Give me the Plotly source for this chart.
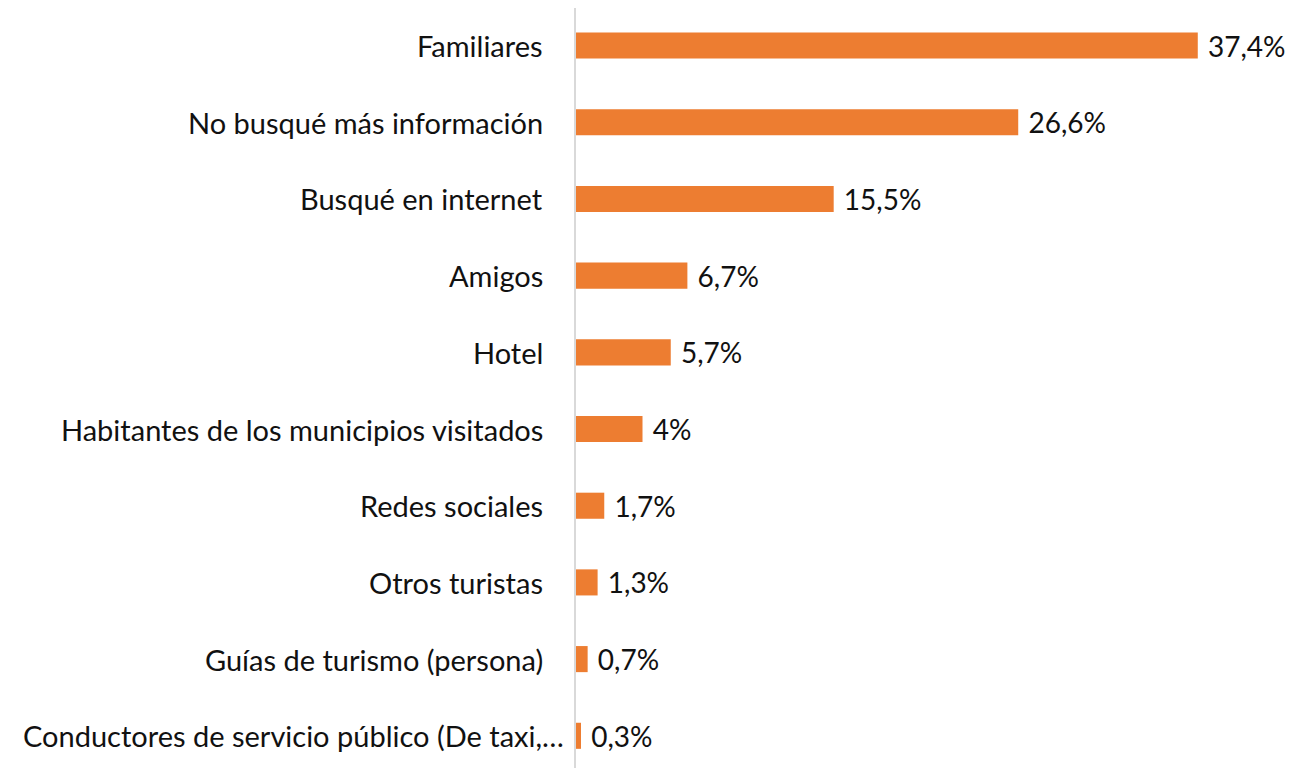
import plotly.graph_objects as go

categories = [
    "Familiares",
    "No busqué más información",
    "Busqué en internet",
    "Amigos",
    "Hotel",
    "Habitantes de los municipios visitados",
    "Redes sociales",
    "Otros turistas",
    "Guías de turismo (persona)",
    "Conductores de servicio público (De taxi,…",
]
values = [37.4, 26.6, 15.5, 6.7, 5.7, 4.0, 1.7, 1.3, 0.7, 0.3]

labels = ["\u00a0" + f"{v:g}".replace(".", ",") + "%" for v in values]

FONT = "Lato"
SIZE = 29
LABEL_SIZE = 28
TEXT_COLOR = "#111111"

fig = go.Figure(
    go.Bar(
        x=values,
        y=categories,
        orientation="h",
        marker=dict(color="#ED7D31", line=dict(width=0)),
        text=labels,
        textposition="outside",
        constraintext="none",
        cliponaxis=False,
        textfont=dict(family=FONT, size=LABEL_SIZE, color=TEXT_COLOR),
        outsidetextfont=dict(family=FONT, size=LABEL_SIZE, color=TEXT_COLOR),
    )
)

# category labels as annotations (the last, truncated one sits closer to the axis)
for i, cat in enumerate(categories):
    shift = -10 if cat.endswith("…") else -31
    fig.add_annotation(
        x=0, xref="paper", y=cat, yref="y",
        text=cat, showarrow=False,
        xanchor="right", yanchor="middle", xshift=shift,
        font=dict(family=FONT, size=SIZE, color=TEXT_COLOR),
    )

fig.update_layout(
    width=1288,
    height=760,
    margin=dict(l=568, r=55, t=0, b=0),
    paper_bgcolor="white",
    plot_bgcolor="white",
    bargap=0.66,
    showlegend=False,
    font=dict(family=FONT, size=SIZE, color=TEXT_COLOR),
)
fig.update_xaxes(
    range=[0, 40],
    showgrid=False,
    zeroline=False,
    showticklabels=False,
    showline=False,
)
fig.update_yaxes(
    categoryorder="array",
    categoryarray=categories,
    range=[9.42, -0.49],
    showgrid=False,
    zeroline=False,
    showline=True,
    linecolor="#d9d9d9",
    linewidth=2,
    showticklabels=False,
    ticks="",
    automargin=False,
)

fig.write_html("out.html")
